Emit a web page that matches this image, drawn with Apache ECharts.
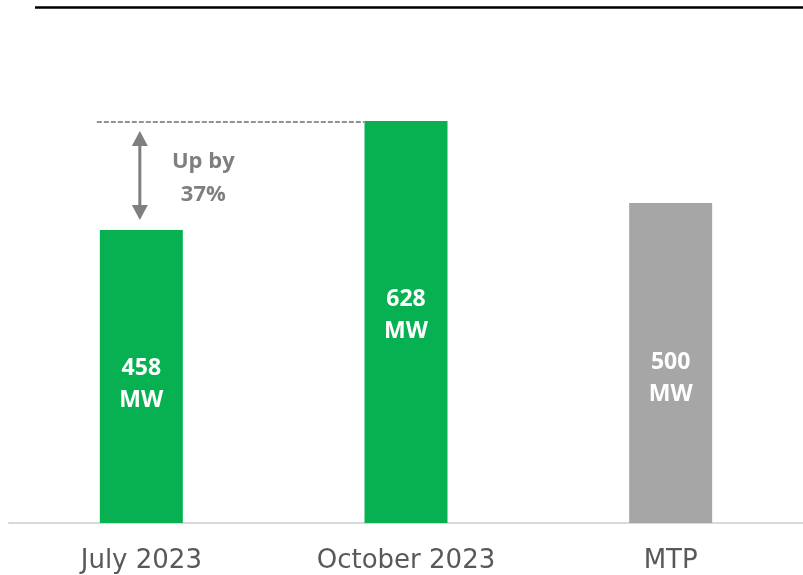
<!DOCTYPE html>
<html>
<head>
<meta charset="utf-8">
<script src="https://cdn.jsdelivr.net/npm/echarts@6/dist/echarts.min.js"></script>
<style>
  html, body { margin: 0; padding: 0; background: #fff; }
  #chart { width: 803px; height: 575px; }
</style>
</head>
<body>
<div id="chart"></div>
<script>
// data
var categories = ['July 2023', 'October 2023', 'MTP'];
var capacityMW = [458, 628, 500];
var unit = 'MW';

// styles per bar
var barColors = ['#07B152', '#07B152', '#A6A6A6'];
var labelShift = [8, -7, 15];

var chart = echarts.init(document.getElementById('chart'));

var growth = Math.round((capacityMW[1] - capacityMW[0]) / capacityMW[0] * 100);

chart.setOption({
    animation: false,
    grid: { left: 9, right: 0, top: 75, bottom: 52 },
    graphic: [{
        type: 'line',
        shape: { x1: 35, y1: 7.5, x2: 803, y2: 7.5 },
        style: { stroke: '#000', lineWidth: 2.5 }
    }],
    xAxis: {
        type: 'category',
        data: categories,
        axisLine: { lineStyle: { color: '#d9d9d9', width: 2 } },
        axisTick: { show: false },
        axisLabel: {
            color: '#595959',
            fontFamily: 'DejaVu Sans',
            fontSize: 26,
            margin: 25
        }
    },
    yAxis: {
        type: 'value',
        min: 0,
        max: 700,
        show: false
    },
    series: [
        {
            type: 'bar',
            barWidth: 83,
            data: capacityMW.map(function (v, i) {
                return {
                    value: v,
                    itemStyle: { color: barColors[i] },
                    label: { offset: [0, labelShift[i]] }
                };
            }),
            label: {
                show: true,
                position: 'inside',
                formatter: '{c}\n' + unit,
                color: '#fff',
                fontFamily: 'Open Sans',
                fontWeight: 'bold',
                fontSize: 23,
                lineHeight: 32
            }
        },
        {
            // up-by annotation between first two bars
            type: 'custom',
            z: 5,
            clip: false,
            silent: true,
            encode: { x: 0, y: [1, 2] },
            data: [[0, capacityMW[0], capacityMW[1]]],
            renderItem: function (params, api) {
                var low = api.coord([api.value(0), api.value(1)]);
                var high = api.coord([api.value(0), api.value(2)]);
                var step = api.size([1, 0])[0];
                var half = 41.5;
                var ax = low[0] - 1.5;
                var grey = '#7f7f7f';
                return {
                    type: 'group',
                    children: [
                        {
                            type: 'line',
                            shape: { x1: low[0] - half - 3, y1: high[1] + 1, x2: low[0] + step - half, y2: high[1] + 1 },
                            style: { stroke: '#939393', lineWidth: 2, lineDash: [5, 2] }
                        },
                        {
                            type: 'line',
                            shape: { x1: ax, y1: high[1] + 22, x2: ax, y2: low[1] - 22 },
                            style: { stroke: grey, lineWidth: 3 }
                        },
                        {
                            type: 'polygon',
                            shape: { points: [[ax, high[1] + 10], [ax - 8, high[1] + 25], [ax + 8, high[1] + 25]] },
                            style: { fill: grey }
                        },
                        {
                            type: 'polygon',
                            shape: { points: [[ax, low[1] - 10], [ax - 8, low[1] - 25], [ax + 8, low[1] - 25]] },
                            style: { fill: grey }
                        },
                        {
                            type: 'text',
                            style: {
                                text: 'Up by\n' + growth + '%',
                                x: low[0] + 62,
                                y: (high[1] + low[1]) / 2 + 3,
                                align: 'center',
                                verticalAlign: 'middle',
                                fill: grey,
                                fontFamily: 'Open Sans',
                                fontWeight: 'bold',
                                fontSize: 22,
                                lineHeight: 33
                            }
                        }
                    ]
                };
            }
        }
    ]
});
</script>
</body>
</html>
